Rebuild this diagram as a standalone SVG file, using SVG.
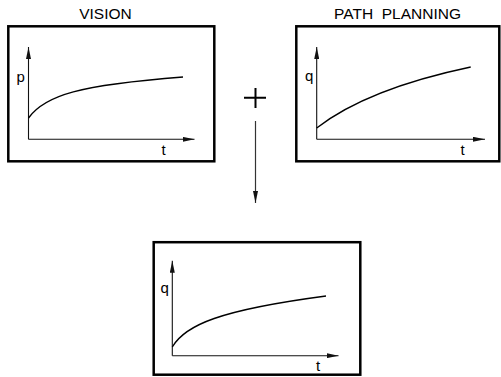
<svg xmlns="http://www.w3.org/2000/svg" width="501" height="377" viewBox="0 0 501 377">
<style>
.frame{fill:none;stroke:#000;stroke-width:2.5}
.axis{fill:none;stroke:#111;stroke-width:1.1}
.curve{fill:none;stroke:#000;stroke-width:1.4}
.title{font-family:"Liberation Sans",Arial,sans-serif;font-size:15.5px;fill:#000;text-anchor:middle;white-space:pre}
.lbl{font-family:"Liberation Sans",Arial,sans-serif;font-size:15px;fill:#000}
.conn{fill:none;stroke:#333;stroke-width:1.2}
</style>
<defs>
<marker id="ah" markerUnits="userSpaceOnUse" markerWidth="12" markerHeight="5" refX="12" refY="2.5" orient="auto" viewBox="0 0 12 5">
<path d="M0,0 L12,2.5 L0,5 Z" fill="#111"/>
</marker>
</defs>
<rect width="501" height="377" fill="#fff"/>
<g id="vision">
<text class="title" x="105.5" y="18.5">VISION</text>
<rect class="frame" x="8.3" y="26.3" width="206" height="135"/>
<path class="axis" d="M28.5,139.3 L28.5,47" marker-end="url(#ah)"/>
<path class="axis" d="M28.5,139.3 L194.5,139.3" marker-end="url(#ah)"/>
<path class="curve" d="M28.5,118 C45,95 80,85 183,77"/>
<text class="lbl" x="16.5" y="81.5">p</text>
<text class="lbl" x="161.5" y="155">t</text>
</g>
<g id="path-planning">
<text class="title" x="397.5" y="18.5" xml:space="preserve">PATH  PLANNING</text>
<rect class="frame" x="296.3" y="26.3" width="203" height="135"/>
<path class="axis" d="M316.7,139.3 L316.7,47" marker-end="url(#ah)"/>
<path class="axis" d="M316.7,139.3 L485,139.3" marker-end="url(#ah)"/>
<path class="curve" d="M316.7,128 C345,106 390,84 470.7,67"/>
<text class="lbl" x="305" y="80.5">q</text>
<text class="lbl" x="460.5" y="155">t</text>
</g>
<g id="result">
<rect class="frame" x="153.7" y="242.2" width="206.6" height="132.5"/>
<path class="axis" d="M172.3,355.7 L172.3,260.7" marker-end="url(#ah)"/>
<path class="axis" d="M172.3,355.7 L338.5,355.7" marker-end="url(#ah)"/>
<path class="curve" d="M172.3,347 C185,325 220,310 326,296"/>
<text class="lbl" x="160.5" y="293">q</text>
<text class="lbl" x="316" y="370.5">t</text>
</g>
<g id="plus">
<path d="M244,97.7 L266,97.7 M255.5,88 L255.5,108" fill="none" stroke="#000" stroke-width="2"/>
</g>
<g id="connectors">
<path class="conn" d="M255.5,121 L255.5,203" marker-end="url(#ah)"/>
</g>
</svg>
